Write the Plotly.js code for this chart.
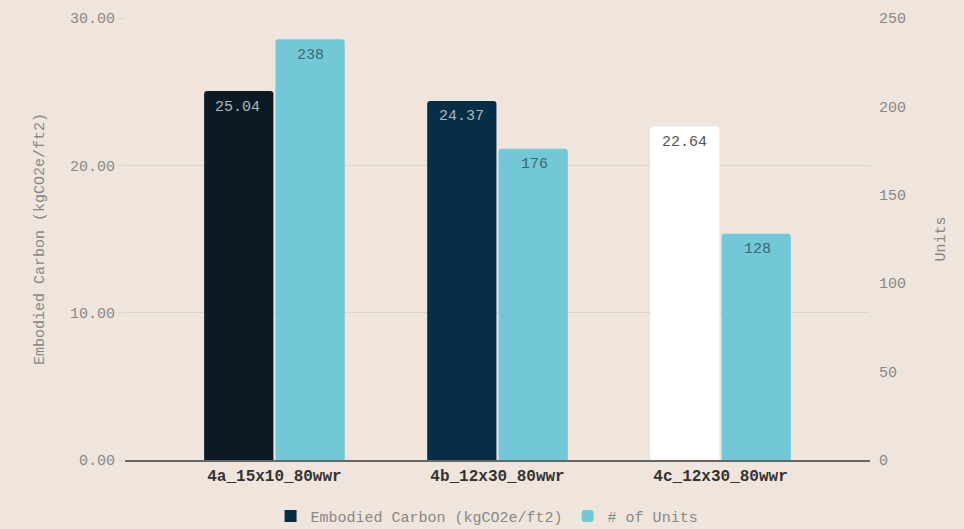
<!DOCTYPE html>
<html>
<head>
<meta charset="utf-8">
<script src="https://cdn.plot.ly/plotly-3.0.1.min.js"></script>
<style>
  html, body { margin: 0; padding: 0; background: #efe5dc; }
  #chart { width: 964px; height: 529px; }
</style>
</head>
<body>
<div id="chart"></div>
<script>
// Scenario categories
const categories = ['4a_15x10_80wwr', '4b_12x30_80wwr', '4c_12x30_80wwr'];
// Embodied carbon per scenario (kgCO2e/ft2)
const embodiedCarbon = [25.04, 24.37, 22.64];
// Number of units per scenario
const unitCounts = [238, 176, 128];
// Fill colours of the embodied-carbon bars, one per scenario
const carbonColors = ['#0b1a24', '#062e47', '#ffffff'];
const carbonTextColors = ['#aeb8be', '#aeb8be', '#555555'];
const unitsColor = '#72c8d6';
const legendCarbonColor = '#072d45';

const mono = 'Liberation Mono, Courier New, monospace';

const traces = [
  {
    type: 'bar',
    name: 'Embodied Carbon (kgCO2e/ft2)',
    x: categories,
    y: embodiedCarbon,
    yaxis: 'y',
    offsetgroup: 'carbon',
    marker: { color: carbonColors, cornerradius: 3 },
    showlegend: false,
    hoverinfo: 'x+y'
  },
  {
    // legend entry for the carbon series (no drawn bars)
    type: 'bar',
    name: 'Embodied Carbon (kgCO2e/ft2)',
    x: categories,
    y: categories.map(() => null),
    yaxis: 'y',
    offsetgroup: 'carbon',
    marker: { color: legendCarbonColor },
    hoverinfo: 'skip'
  },
  {
    type: 'bar',
    name: '# of Units',
    x: categories,
    y: unitCounts,
    yaxis: 'y2',
    offsetgroup: 'units',
    marker: { color: unitsColor, cornerradius: 3 },
    hoverinfo: 'x+y'
  }
];

// Value labels placed just under the top of each bar
const annotations = [];
categories.forEach((c, i) => {
  annotations.push({
    x: c, y: embodiedCarbon[i], xref: 'x', yref: 'y',
    text: embodiedCarbon[i].toFixed(2),
    showarrow: false, xshift: -36.5, yshift: -16,
    font: { family: mono, size: 15, color: carbonTextColors[i] }
  });
  annotations.push({
    x: c, y: unitCounts[i], xref: 'x', yref: 'y2',
    text: String(unitCounts[i]),
    showarrow: false, xshift: 36.5, yshift: -16,
    font: { family: mono, size: 15, color: '#3d6670' }
  });
});

const layout = {
  width: 964,
  height: 529,
  paper_bgcolor: '#efe5dc',
  plot_bgcolor: '#efe5dc',
  margin: { l: 125, r: 94, t: 18, b: 69, autoexpand: false },
  barmode: 'group',
  bargap: 0.36,
  bargroupgap: 0.03,
  font: { family: mono, size: 15, color: '#888888' },
  xaxis: {
    type: 'category',
    range: [-0.67, 2.67],
    showgrid: false,
    showline: true,
    linecolor: '#666666',
    linewidth: 1.5,
    ticks: '',
    tickfont: { family: mono, size: 16, color: '#333333', weight: 'bold' },
    fixedrange: true
  },
  yaxis: {
    range: [0, 30],
    tickvals: [0, 10, 20, 30],
    ticktext: ['0.00', '10.00', '20.00', '30.00'],
    showgrid: true,
    gridcolor: '#dbd4ca',
    gridwidth: 1,
    zeroline: false,
    ticks: 'outside',
    ticklen: 6,
    tickcolor: '#dbd4ca',
    tickfont: { family: mono, size: 15, color: '#888888' },
    title: { text: 'Embodied Carbon (kgCO2e/ft2)', font: { family: mono, size: 15, color: '#888888' }, standoff: 21 },
    fixedrange: true
  },
  yaxis2: {
    overlaying: 'y',
    side: 'right',
    range: [0, 250],
    tickvals: [0, 50, 100, 150, 200, 250],
    showgrid: false,
    zeroline: false,
    ticks: '',
    ticklabelstandoff: 8,
    tickfont: { family: mono, size: 15, color: '#888888' },
    title: { text: 'Units', font: { family: mono, size: 15, color: '#888888' }, standoff: 29 },
    fixedrange: true
  },
  legend: {
    orientation: 'h',
    x: 0.486, xanchor: 'center',
    y: -0.09, yanchor: 'top',
    font: { family: mono, size: 15, color: '#888888' },
    bgcolor: 'rgba(0,0,0,0)',
    traceorder: 'normal'
  },
  annotations: annotations,
  showlegend: true
};

Plotly.newPlot('chart', traces, layout, { displayModeBar: false, staticPlot: true });
</script>
</body>
</html>
